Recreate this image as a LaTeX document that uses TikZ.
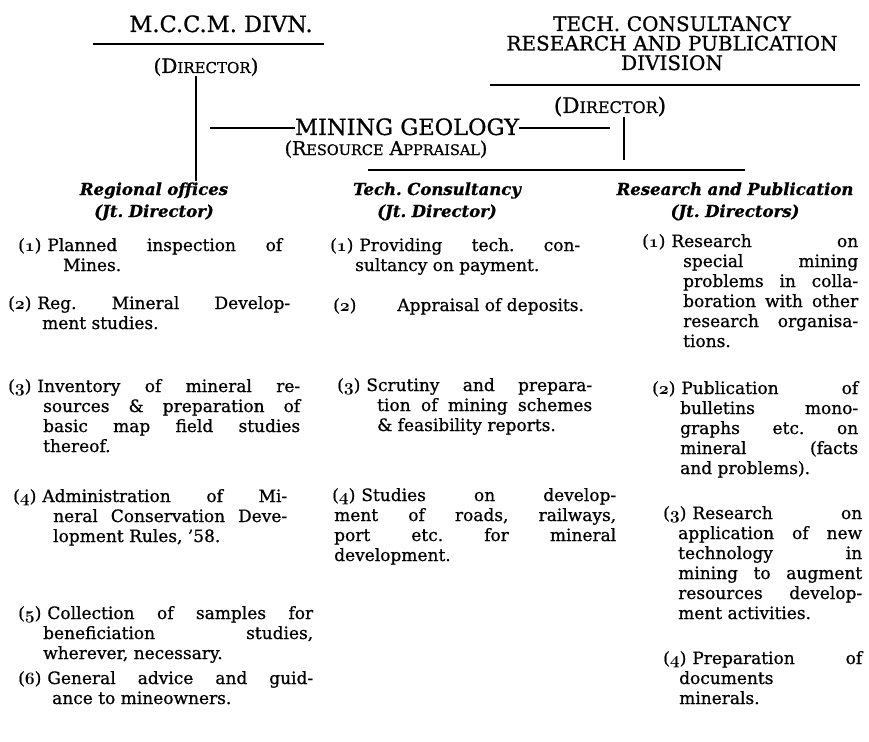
\documentclass[tikz,border=0pt]{standalone}
\usepackage{fontspec}
\setmainfont{DejaVu Serif}[FakeBold=0.8]
\newcommand\smc[2][15]{{\fontsize{#1}{#1}\selectfont #2}}
\newcommand\itemno[1]{({\usefont{OML}{cmm}{b}{it}#1})\hspace{6pt}}
\AtBeginDocument{\lineskiplimit=-50pt\frenchspacing}
\tikzset{
  title/.style={font=\fontsize{20}{19.5}\selectfont, text width=420pt, align=center, inner sep=0pt, anchor=base},
  sub/.style={font=\fontsize{20}{20}\selectfont, inner sep=0pt, anchor=base},
  col/.style={font=\fontsize{16.5}{22}\selectfont\bfseries\itshape, text width=260pt, align=center, inner sep=0pt, anchor=base},
  item/.style={font=\fontsize{17}{20}\selectfont\frenchspacing, align=justify, inner sep=0pt, anchor=base west},
  rule/.style={line width=2.2pt},
  link/.style={line width=2.2pt},
  thin link/.style={line width=1.6pt}
}
\begin{document}
\begin{tikzpicture}[x=1pt,y=-1pt]
\useasboundingbox (0,0) rectangle (869,741);
% division heads
\node[sub, font=\fontsize{22.5}{22.5}\selectfont] (mccm) at (221,32) {M.C.C.M. DIVN.};
\draw[rule] (93,44) -- (324,44);
\node[sub] (mdir) at (206,73) {(D\smc{IRECTOR})};
\node[title] (tdiv) at (672,31) {TECH. CONSULTANCY\\RESEARCH AND PUBLICATION\\DIVISION};
\draw[rule] (490,85) -- (860,85);
\node[sub, font=\fontsize{21.5}{21.5}\selectfont] (tdir) at (610,113) {(D\smc[16]{IRECTOR})};
\node[sub, font=\fontsize{22.5}{22.5}\selectfont] (geo) at (407,135) {MINING GEOLOGY};
\node[sub, font=\fontsize{19}{19}\selectfont] (app) at (386,155) {(R\smc[14.5]{ESOURCE} A\smc[14.5]{PPRAISAL})};
\draw[rule] (368,170) -- (745,170);
% connectors
\coordinate (mleg) at (196,181);
\coordinate (gl) at (210,128);
\coordinate (gr) at (610,128);
\coordinate (tleg) at (624,160);
\draw[link] (mdir.south -| mleg) -- (mleg);
\draw[thin link] (gl) -- (geo.west |- gl);
\draw[thin link] (geo.east |- gr) -- (gr);
\draw[link] (tdir.south -| tleg) -- (tleg);
% column heads
\node[col] (reg) at (154,195) {Regional offices\\(Jt. Director)};
\node[col] (tech) at (437,195) {Tech. Consultancy\\(Jt. Director)};
\node[col] (resp) at (735,195) {Research and Publication\\(Jt. Directors)};
% regional offices
\node[item, text width=264pt] (ro1) at (18,251) {\hangindent=45pt\hangafter=1 \itemno{1}Planned inspection of\linebreak Mines.\par};
\node[item, text width=282pt] (ro2) at (8,309) {\hangindent=34pt\hangafter=1 \itemno{2}Reg. Mineral Develop-\linebreak ment studies.\par};
\node[item, text width=292pt] (ro3) at (8,392) {\hangindent=35pt\hangafter=1 \itemno{3}Inventory of mineral re-\linebreak sources \& preparation of\linebreak basic map field studies\linebreak thereof.\par};
\node[item, text width=274pt] (ro4) at (13,502) {\hangindent=40pt\hangafter=1 \itemno{4}Administration of Mi-\linebreak neral Conservation Deve-\linebreak lopment Rules, ’58.\par};
\node[item, text width=295pt] (ro5) at (18,619) {\hangindent=25pt\hangafter=1 \itemno{5}Collection of samples for\linebreak beneficiation studies,\linebreak wherever, necessary.\par};
\node[item, text width=295pt] (ro6) at (18,684) {\hangindent=34pt\hangafter=1 \itemno{6}General advice and guid-\linebreak ance to mineowners.\par};
% tech. consultancy
\node[item, text width=250pt] (tc1) at (330,251) {\hangindent=25pt\hangafter=1 \itemno{1}Providing tech. con-\linebreak sultancy on payment.\par};
\node[item, text width=260pt] (tc2) at (333,311) {\itemno{2}\hspace{35pt}Appraisal of deposits.\par};
\node[item, text width=255pt] (tc3) at (337,391) {\hangindent=40pt\hangafter=1 \itemno{3}Scrutiny and prepara-\linebreak tion of mining schemes\linebreak \& feasibility reports.\par};
\node[item, text width=284pt] (tc4) at (332,501) {\hangindent=2pt\hangafter=1 \itemno{4}Studies on develop-\linebreak ment of roads, railways,\linebreak port etc. for mineral\linebreak development.\par};
% research and publication
\node[item, text width=216pt] (rp1) at (642,247) {\hangindent=41pt\hangafter=1 \itemno{1}Research on\linebreak special mining\linebreak problems in colla-\linebreak boration with other\linebreak research organisa-\linebreak tions.\par};
\node[item, text width=206pt] (rp2) at (652,394) {\hangindent=28pt\hangafter=1 \itemno{2}Publication of\linebreak bulletins mono-\linebreak graphs etc. on\linebreak mineral (facts\linebreak and problems).\par};
\node[item, text width=199pt] (rp3) at (663,519) {\hangindent=15pt\hangafter=1 \itemno{3}Research on\linebreak application of new\linebreak technology in\linebreak mining to augment\linebreak resources develop-\linebreak ment activities.\par};
\node[item, text width=199pt] (rp4) at (663,664) {\hangindent=16pt\hangafter=1 \itemno{4}Preparation of\linebreak documents\\ minerals.\par};
\end{tikzpicture}
\end{document}
